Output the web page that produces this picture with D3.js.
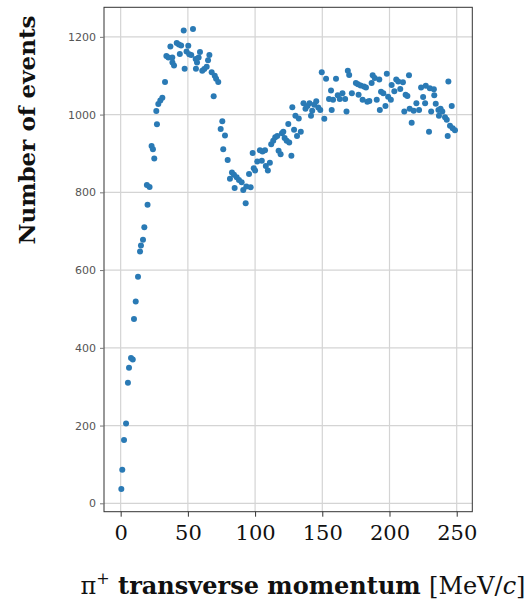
<!DOCTYPE html>
<html>
<head>
<meta charset="utf-8">
<script src="https://cdn.jsdelivr.net/npm/d3@7"></script>
<style>
  body { margin: 0; background: #fff; }
  svg { display: block; }
</style>
</head>
<body>
<script>
// pi+ transverse momentum (MeV/c) and number of events
const momentum = [
  0.5, 1.2, 2.5, 4, 5.4, 6.2, 7.7, 9, 9.9, 11.2, 12.9, 14.4, 15.1, 16.6, 17.6, 19.5, 20, 21.5,
  23, 24, 25, 26.5, 27, 28, 29.5, 31, 33, 34, 35.5, 37, 38.4, 38.5, 39.7, 41.7, 43.3, 44, 45,
  46.9, 47.6, 49, 50.3, 51, 52.5, 53.8, 55.8, 56, 56.8, 58, 59, 60.7, 62.2, 64, 65, 66, 67.7,
  69.2, 70, 71, 72.6, 74.4, 75.6, 76.3, 77.6, 79.6, 81.3, 82.8, 84.3, 84.8, 86.3, 88, 90, 91.2,
  93, 93.5, 95.5, 96.7, 98.2, 99, 100, 101.6, 103.6, 105, 105.5, 107.4, 108, 109.5, 111, 112,
  113.5, 115, 116.5, 117.5, 119, 120, 121, 122, 123.5, 124.7, 125.4, 127, 127.7, 129, 130,
  131.2, 132.5, 134, 136, 137.5, 139, 140.5, 141.6, 142.5, 144, 145.5, 147, 148.5, 149.6,
  151.5, 152.8, 155, 156.5, 157, 158, 160.2, 161.5, 163, 165, 167, 168, 169, 170, 172, 175,
  176.5, 177, 178.5, 180, 181, 182.5, 183.5, 185, 186.7, 187.5, 189, 190.5, 192.4, 192.8,
  193.7, 195.4, 197, 198, 199, 201, 201.6, 203.6, 205, 206.5, 208, 210, 211, 212, 213.3,
  214.5, 215, 216.5, 218, 220, 222, 223.5, 225, 226.5, 227, 229.4, 230, 231, 233, 233.3,
  234.4, 236.4, 236.8, 238, 239.3, 241.3, 242.6, 243.3, 243.8, 245, 246.3, 247, 248.7
];
const events = [
  37, 86, 163, 205, 310, 349, 374, 370, 474, 519, 583, 648, 663, 678, 710, 819, 768, 814,
  919, 911, 887, 1009, 975, 1027, 1036, 1043, 1084, 1151, 1147, 1175, 1147, 1134, 1126, 1184, 1180, 1156, 1178,
  1216, 1118, 1162, 1177, 1155, 1153, 1220, 1143, 1118, 1134, 1147, 1161, 1113, 1117, 1123, 1140, 1153, 1109,
  1047, 1100, 1092, 1084, 963, 983, 911, 946, 883, 835, 851, 845, 811, 839, 832, 826, 806,
  772, 815, 847, 813, 901, 862, 856, 879, 908, 881, 905, 908, 868, 856, 876, 924,
  933, 942, 945, 907, 898, 952, 956, 940, 933, 976, 928, 894, 1019, 961, 997,
  945, 990, 956, 1029, 1015, 1022, 1029, 997, 1010, 1025, 1034, 1018, 1012, 1109,
  989, 1092, 1040, 1062, 1012, 1038, 1092, 1050, 1040, 1055, 1040, 1008, 1113, 1102, 1055, 1081,
  1078, 1051, 1075, 1038, 1072, 1070, 1033, 1035, 1081, 1101, 1094, 1038, 1090, 1012,
  1059, 1055, 1022, 1105, 1046, 1038, 1076, 1060, 1090, 1085, 1066, 1083, 1008, 1051, 1048,
  1101, 1015, 979, 1010, 1029, 1012, 1070, 1045, 1029, 1074, 956, 1068, 1008, 1065, 1050,
  1028, 1012, 997, 1015, 1008, 993, 987, 945, 1085, 971, 1022, 965, 960
];
const xTicks = [0, 50, 100, 150, 200, 250];
const yTicks = [0, 200, 400, 600, 800, 1000, 1200];

const width = 529, height = 603;
const plot = { left: 104, right: 472.3, top: 7.3, bottom: 511.7 };

const svg = d3.select("body").append("svg")
    .attr("width", width)
    .attr("height", height);

const x = d3.scaleLinear().domain([-12.4, 261.6]).range([plot.left, plot.right]);
const y = d3.scaleLinear().domain([-21.6, 1276]).range([plot.bottom, plot.top]);

// grid
svg.append("g")
    .selectAll("line.vgrid")
    .data(xTicks)
    .join("line")
    .attr("x1", d => x(d)).attr("x2", d => x(d))
    .attr("y1", plot.top).attr("y2", plot.bottom)
    .attr("stroke", "#d4d4d4").attr("stroke-width", 1.2);

svg.append("g")
    .selectAll("line.hgrid")
    .data(yTicks)
    .join("line")
    .attr("x1", plot.left).attr("x2", plot.right)
    .attr("y1", d => y(d)).attr("y2", d => y(d))
    .attr("stroke", "#d4d4d4").attr("stroke-width", 1.2);

// points
svg.append("g")
    .selectAll("circle")
    .data(d3.zip(momentum, events))
    .join("circle")
    .attr("cx", d => x(d[0]))
    .attr("cy", d => y(d[1]))
    .attr("r", 3)
    .attr("fill", "#2a7ab5");

// frame
svg.append("rect")
    .attr("x", plot.left).attr("y", plot.top)
    .attr("width", plot.right - plot.left)
    .attr("height", plot.bottom - plot.top)
    .attr("fill", "none")
    .attr("stroke", "#333")
    .attr("stroke-width", 1);

// x axis
const xAxis = svg.append("g")
    .attr("transform", `translate(0,${plot.bottom})`)
    .call(d3.axisBottom(x).tickValues(xTicks).tickSize(5).tickPadding(8).tickFormat(d3.format("d")));
xAxis.select(".domain").remove();
xAxis.selectAll("line").attr("stroke", "#333");
xAxis.selectAll("text")
    .attr("fill", "#111")
    .style("font-family", "'DejaVu Serif', serif")
    .style("font-size", "21px");

// y axis
const yAxis = svg.append("g")
    .attr("transform", `translate(${plot.left},0)`)
    .call(d3.axisLeft(y).tickValues(yTicks).tickSize(4).tickPadding(4).tickFormat(d3.format("d")));
yAxis.select(".domain").remove();
yAxis.selectAll("line").attr("stroke", "#777");
yAxis.selectAll("text")
    .attr("fill", "#555")
    .style("font-family", "'DejaVu Sans', sans-serif")
    .style("font-size", "11px");

// axis titles
const xLabel = svg.append("text")
    .attr("x", 303)
    .attr("y", 594)
    .attr("text-anchor", "middle")
    .style("font-family", "'DejaVu Serif', serif")
    .style("font-size", "24px")
    .style("font-weight", "bold")
    .attr("fill", "#111");
xLabel.append("tspan").style("font-weight", "normal").text("π");
xLabel.append("tspan").attr("dy", -10).style("font-size", "16px").style("font-weight", "normal").text("+");
xLabel.append("tspan").attr("dy", 10).text(" transverse momentum ");
xLabel.append("tspan").style("font-weight", "normal").text("[MeV/");
xLabel.append("tspan").style("font-weight", "normal").style("font-style", "italic").text("c");
xLabel.append("tspan").style("font-weight", "normal").text("]");

svg.append("text")
    .attr("transform", `translate(35,130) rotate(-90)`)
    .attr("text-anchor", "middle")
    .style("font-family", "'DejaVu Serif', serif")
    .style("font-size", "23px")
    .style("font-weight", "bold")
    .attr("fill", "#111")
    .text("Number of events");
</script>
</body>
</html>
